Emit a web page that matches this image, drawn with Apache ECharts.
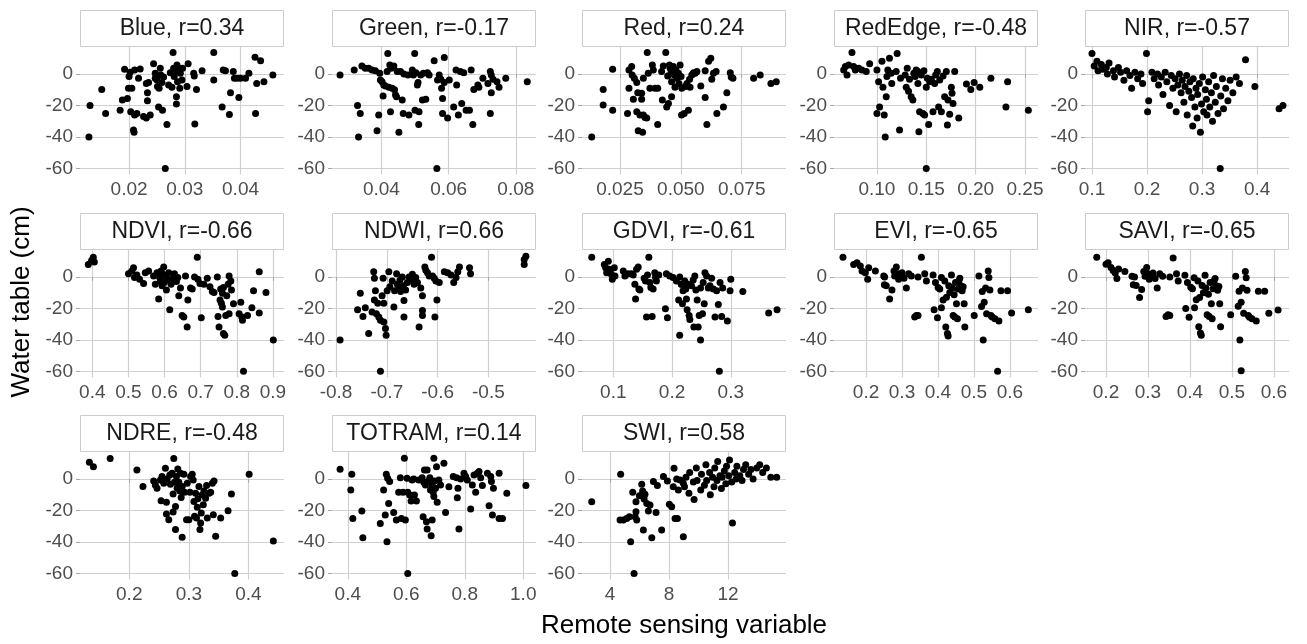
<!DOCTYPE html>
<html>
<head>
<meta charset="utf-8">
<script src="https://cdn.jsdelivr.net/npm/echarts@6/dist/echarts.min.js"></script>
<style>
  html, body { margin: 0; padding: 0; background: #fff; }
  #chart { width: 1307px; height: 644px; }
</style>
</head>
<body>
<div id="chart"></div>
<script>
// panel titles and correlations
const panelNames = ['Blue', 'Green', 'Red', 'RedEdge', 'NIR', 'NDVI', 'NDWI', 'GDVI', 'EVI', 'SAVI', 'NDRE', 'TOTRAM', 'SWI'];
const panelR = ['0.34', '-0.17', '0.24', '-0.48', '-0.57', '-0.66', '0.66', '-0.61', '-0.65', '-0.65', '-0.48', '0.14', '0.58'];

// x axis ranges, breaks and labels (free x scales)
const xRanges = [[0.0112, 0.0478], [0.0253, 0.0860], [0.0094, 0.0932], [0.0565, 0.2632], [0.0873, 0.458],
  [0.366, 0.9306], [-0.808, -0.4063], [0.0467, 0.394], [0.111, 0.678], [0.15, 0.636],
  [0.1174, 0.4596], [0.346, 1.0436], [2.10, 15.93]];
const xBreaks = [[0.02, 0.03, 0.04], [0.04, 0.06, 0.08], [0.025, 0.05, 0.075], [0.10, 0.15, 0.20, 0.25], [0.1, 0.2, 0.3, 0.4],
  [0.4, 0.5, 0.6, 0.7, 0.8, 0.9], [-0.8, -0.7, -0.6, -0.5], [0.1, 0.2, 0.3], [0.2, 0.3, 0.4, 0.5, 0.6], [0.2, 0.3, 0.4, 0.5, 0.6],
  [0.2, 0.3, 0.4], [0.4, 0.6, 0.8, 1.0], [4, 8, 12]];
const xLabels = [['0.02', '0.03', '0.04'], ['0.04', '0.06', '0.08'], ['0.025', '0.050', '0.075'], ['0.10', '0.15', '0.20', '0.25'], ['0.1', '0.2', '0.3', '0.4'],
  ['0.4', '0.5', '0.6', '0.7', '0.8', '0.9'], ['-0.8', '-0.7', '-0.6', '-0.5'], ['0.1', '0.2', '0.3'], ['0.2', '0.3', '0.4', '0.5', '0.6'], ['0.2', '0.3', '0.4', '0.5', '0.6'],
  ['0.2', '0.3', '0.4'], ['0.4', '0.6', '0.8', '1.0'], ['4', '8', '12']];

// shared y axis
const yRange = [-63.67, 17.07];
const yBreaks = [-60, -40, -20, 0];

// points [remote sensing value, water table cm]
const blue = [[0.0128,-40],[0.0130,-20],[0.0151,-9.8],[0.0158,-25],[0.0184,-23],[0.0188,-16.5],[0.0192,3],[0.0197,-15.5],[0.0199,-9],[0.0202,1],[0.0200,-1.7],[0.0203,-24],[0.0205,-9],[0.0208,-35.6],[0.0209,-37],[0.0210,2.5],[0.0214,-25],[0.0217,-2.8],[0.0220,3.2],[0.0210,-26],[0.0226,-27],[0.0231,-6],[0.0231,-28],[0.0233,-12],[0.0233,-17],[0.0238,-26],[0.0235,-5.5],[0.0244,6.4],[0.0247,0.4],[0.0247,-2.8],[0.0250,-3.8],[0.0251,-8],[0.0253,-21],[0.0254,-9],[0.0256,3.6],[0.0257,-0.6],[0.0259,-5.5],[0.0260,-23],[0.0262,-2],[0.0268,-32],[0.0265,-60],[0.0271,-7],[0.0274,0.8],[0.0277,-8.5],[0.0279,13.6],[0.0280,3.6],[0.0281,-1.7],[0.0283,1.5],[0.0285,-14.4],[0.0285,-19],[0.0286,5.7],[0.0287,-4.9],[0.0289,3.6],[0.0291,-9],[0.0292,0.4],[0.0295,-3.8],[0.0296,3.6],[0.0304,-8],[0.0306,6.4],[0.0316,0.4],[0.0317,-1.3],[0.0318,-31.8],[0.0321,-9.8],[0.0331,2],[0.0352,13.6],[0.0352,-3.8],[0.0369,2.5],[0.0373,2],[0.0367,-21],[0.0380,-25.7],[0.0382,-12],[0.0387,1.5],[0.0389,-2.8],[0.0394,-2.8],[0.0397,-15],[0.0400,-2.8],[0.0409,-2.8],[0.0415,0.4],[0.0426,10.6],[0.0427,-25],[0.0429,-6],[0.0436,8.3],[0.0442,-4.9],[0.0458,-0.6]];
const green = [[0.0277,-0.6],[0.0319,2.5],[0.0329,-20],[0.0337,-25],[0.0332,-40],[0.0342,5],[0.0352,3.6],[0.0362,3.6],[0.0372,2.5],[0.0382,2],[0.0387,-36],[0.0392,-26],[0.0395,0.4],[0.0397,-3.8],[0.0402,-5],[0.0405,-14],[0.0407,-7],[0.0412,-7.6],[0.0417,1.5],[0.0419,13],[0.0422,-8.5],[0.0425,5.7],[0.0427,-24],[0.0429,3.6],[0.0432,-9],[0.0437,5],[0.0439,-10],[0.0442,-13.4],[0.0445,-14.4],[0.0447,1.5],[0.0452,-37],[0.0457,1.5],[0.0462,-16.5],[0.0465,-25],[0.0467,0],[0.0479,-0.6],[0.0482,-26],[0.0492,2.5],[0.0495,-0.6],[0.0499,13],[0.0500,-23],[0.0503,0.8],[0.0507,-7],[0.0509,-5.5],[0.0511,-32],[0.0512,-24],[0.0517,-0.6],[0.0522,-16.5],[0.0525,0.4],[0.0532,-16],[0.0537,0.8],[0.0542,-0.6],[0.0557,8.3],[0.0565,-60],[0.0567,-3.8],[0.0572,-0.6],[0.0577,-3.4],[0.0579,-9],[0.0582,-15.5],[0.0582,-25],[0.0587,10.4],[0.0587,-5.5],[0.0597,-28],[0.0602,-3.8],[0.0615,-21],[0.0622,2.5],[0.0624,-7],[0.0629,-26],[0.0635,1.5],[0.0639,-18.7],[0.0645,0.8],[0.0652,-23],[0.0662,-23],[0.0667,2.5],[0.0672,-32],[0.0675,-9.8],[0.0687,-7],[0.0690,-8.5],[0.0702,-2.8],[0.0717,-6],[0.0724,1.5],[0.0727,-0.6],[0.0732,-3.4],[0.0744,-5],[0.0750,-8.5],[0.0727,-12],[0.0724,-25],[0.0770,-2.8],[0.0834,-5]];
const red = [[0.0134,-40],[0.0181,-9.8],[0.0181,-19.7],[0.0220,3],[0.0220,-23],[0.0281,-25],[0.0287,2.5],[0.0287,-9],[0.0298,4.7],[0.0300,-0.6],[0.0305,-16],[0.0309,-2.8],[0.0319,-5.5],[0.0319,-24],[0.0323,-12],[0.0325,-36],[0.0332,-26],[0.0339,-12.3],[0.0339,-16],[0.0343,-37],[0.0346,-26],[0.0346,-2.8],[0.0353,-27.6],[0.0360,-28],[0.0362,13.6],[0.0366,0.4],[0.0373,-9],[0.0383,5.7],[0.0387,2.5],[0.0394,-9],[0.0405,-9],[0.0405,-32],[0.0421,1.5],[0.0424,-16.5],[0.0428,5],[0.0438,13.6],[0.0442,-21],[0.0446,-1.3],[0.0449,-18.7],[0.0453,5.7],[0.0456,3.6],[0.0460,0.8],[0.0462,-14.4],[0.0462,-5],[0.0469,4.7],[0.0473,-0.6],[0.0476,-8.5],[0.0480,2.5],[0.0483,-2.8],[0.0490,0.4],[0.0492,-6],[0.0497,5.7],[0.0501,-1.7],[0.0503,-26],[0.0504,-9],[0.0514,-25],[0.0518,-8],[0.0525,-6],[0.0531,-23],[0.0536,-3.4],[0.0538,-8.5],[0.0545,-0.6],[0.0552,0.8],[0.0559,0.4],[0.0566,1.5],[0.0582,-7.6],[0.0600,2],[0.0600,-15],[0.0607,-32],[0.0614,8],[0.0623,10],[0.0627,-3.4],[0.0634,0.4],[0.0645,1.5],[0.0648,-25],[0.0675,-21],[0.0689,-12],[0.0703,0.8],[0.0707,-2],[0.0714,-2.8],[0.0799,-2.8],[0.0826,-0.6],[0.0870,-6],[0.0892,-5]];
const redEdge = [[0.0663,2.5],[0.0680,4.7],[0.0697,-0.6],[0.0713,5.7],[0.0747,13.6],[0.0764,4.7],[0.0781,2.5],[0.0815,3.6],[0.0848,2.5],[0.0892,1.5],[0.0926,6.4],[0.1000,2.5],[0.1017,-5],[0.1027,-21],[0.1051,8],[0.1061,-8.5],[0.1000,-25],[0.1074,-26],[0.1084,-40],[0.1094,-14.4],[0.1101,-1.7],[0.1110,2.5],[0.1127,10],[0.1144,0.4],[0.1150,-6],[0.1205,13],[0.1195,1.5],[0.1229,-35.6],[0.1239,-2.8],[0.1286,-0.6],[0.1297,-8.5],[0.1307,3.6],[0.1320,-11],[0.1330,-3.4],[0.1347,-14.4],[0.1364,-16.5],[0.1374,0.4],[0.1388,-1.7],[0.1398,2.5],[0.1415,1.5],[0.1415,-6],[0.1425,-36.7],[0.1432,-24],[0.1449,-0.6],[0.1466,-25],[0.1476,2],[0.1483,-26],[0.1500,-60],[0.1500,-8.5],[0.1510,-2.8],[0.1524,-32],[0.1534,-5],[0.1551,-3.4],[0.1568,-24],[0.1585,-6],[0.1595,-0.6],[0.1612,1.5],[0.1625,-21],[0.1636,-3.8],[0.1653,-24],[0.1670,-1.3],[0.1686,-14.4],[0.1703,1.5],[0.1714,-32.4],[0.1720,-16.5],[0.1737,-25.5],[0.1754,-8.5],[0.1761,-12.3],[0.1771,-18.7],[0.1788,1.5],[0.1829,-28],[0.1907,-6.4],[0.1951,-9.8],[0.1985,-5.5],[0.2042,-8.5],[0.2155,-2.8],[0.2307,-21],[0.2324,-5],[0.2534,-23]];
const nir = [[0.100,13],[0.104,5],[0.109,8],[0.111,2],[0.117,6],[0.119,3],[0.126,4],[0.128,0],[0.131,7],[0.139,2],[0.141,-2],[0.148,4],[0.152,1],[0.158,-4],[0.163,2],[0.169,-1],[0.172,-9],[0.178,1],[0.183,-3],[0.189,0],[0.192,-6],[0.199,13],[0.201,-24],[0.203,-17],[0.209,1],[0.213,-3],[0.219,0],[0.221,-7],[0.226,-2],[0.229,-13],[0.233,1],[0.236,-5],[0.241,-20],[0.244,-1],[0.247,-9],[0.251,-3],[0.253,-24],[0.256,-7],[0.259,0],[0.262,-12],[0.264,-4],[0.267,-18],[0.269,-8],[0.272,-1],[0.273,-26],[0.276,-11],[0.278,-5],[0.281,-15],[0.283,-33],[0.284,-3],[0.287,-21],[0.289,-9],[0.291,-28],[0.292,-13],[0.295,-6],[0.297,-37],[0.299,-19],[0.301,-2],[0.303,-24],[0.306,-10],[0.308,-16],[0.309,-26],[0.312,-5],[0.314,-21],[0.317,-12],[0.319,-30],[0.321,-1],[0.324,-18],[0.326,-8],[0.329,-25],[0.333,-60],[0.334,-14],[0.337,-3],[0.339,-22],[0.343,-9],[0.347,-17],[0.351,-4],[0.356,-12],[0.362,-2],[0.368,-6],[0.379,9],[0.396,-8],[0.440,-22],[0.447,-20]];
const ndvi = [[0.3889,7.9],[0.3981,10.4],[0.4028,12.5],[0.4056,9.4],[0.5002,2],[0.5095,3.75],[0.5141,5.8],[0.5169,-0.4],[0.5234,1.25],[0.5309,-1.5],[0.5420,-4.2],[0.5466,2.7],[0.5559,3.75],[0.5698,0.6],[0.5745,-4.6],[0.5791,2.7],[0.5837,-14],[0.5865,-0.4],[0.5884,-2.5],[0.5902,3.75],[0.5930,-5.6],[0.5958,1.7],[0.5977,6.25],[0.5995,-3.5],[0.6023,0.6],[0.6051,-8.3],[0.6088,-1.5],[0.6116,2.7],[0.6144,-20.8],[0.6181,-4.6],[0.6237,-0.8],[0.6274,2],[0.6330,-2.9],[0.6367,-0.4],[0.6394,-11.9],[0.6441,-7],[0.6487,-24.4],[0.6533,-25.4],[0.6580,0.6],[0.6626,-31.7],[0.6645,-14.6],[0.6719,-7],[0.6766,-7.7],[0.6831,0],[0.6905,12.5],[0.6923,-1.5],[0.6979,-4.2],[0.7016,-25.8],[0.7090,-4.6],[0.7183,-0.8],[0.7257,-6.25],[0.7322,-9.2],[0.7369,-9.8],[0.7461,0],[0.7480,-25],[0.7508,-31.7],[0.7536,-14.6],[0.7554,-7.7],[0.7573,-16.7],[0.7601,-19],[0.7601,-10.4],[0.7630,-6.7],[0.7630,-35.8],[0.7667,-36.9],[0.7694,-24.4],[0.7722,-11.9],[0.7759,-4.6],[0.7787,0.6],[0.7787,-23.3],[0.7834,-2.5],[0.7852,-8.3],[0.7908,-17],[0.8064,-23.3],[0.8110,-16],[0.8139,-25.4],[0.8157,-27.5],[0.8185,-59.8],[0.8296,-24.4],[0.8417,-19.6],[0.8463,-8.75],[0.8621,-22.9],[0.8621,3.3],[0.8807,-9.8],[0.9010,-40]];
const ndwi = [[-0.7921,-40],[-0.7523,-10.4],[-0.7576,-20.8],[-0.7470,-25],[-0.7424,-19.6],[-0.7358,-35.8],[-0.7292,-22.3],[-0.7259,3.3],[-0.7245,-0.8],[-0.7245,-14.6],[-0.7225,-8.75],[-0.7206,-23.3],[-0.7179,-16.7],[-0.7159,-25.4],[-0.7126,-27.5],[-0.7126,-59.8],[-0.7093,-11.9],[-0.7073,-0.8],[-0.7060,-16.7],[-0.7060,-28.5],[-0.7027,-32.7],[-0.7014,-36.9],[-0.6994,-8.75],[-0.6961,3.3],[-0.6941,-6.25],[-0.6894,-2.5],[-0.6861,-19],[-0.6848,-8.75],[-0.6808,2],[-0.6795,-4.6],[-0.6762,-7],[-0.6742,-2],[-0.6729,-9.2],[-0.6696,0],[-0.6676,-5.6],[-0.6663,-15],[-0.6663,-25.4],[-0.6630,-8.3],[-0.6597,-3.5],[-0.6564,0],[-0.6517,-2],[-0.6497,1.7],[-0.6464,-4.6],[-0.6431,-0.4],[-0.6398,-3.5],[-0.6365,-31.7],[-0.6332,-7],[-0.6299,-11.9],[-0.6299,-21.3],[-0.6299,-24.4],[-0.6252,6.25],[-0.6232,4.2],[-0.6199,2.7],[-0.6166,0.6],[-0.6120,12.5],[-0.6100,0.6],[-0.6067,-0.8],[-0.6054,-25.4],[-0.6034,-2.5],[-0.6014,-14.6],[-0.5968,-3.5],[-0.5868,3.3],[-0.5802,2.7],[-0.5736,1.25],[-0.5683,-3.5],[-0.5637,-0.4],[-0.5603,3.3],[-0.5570,6.25],[-0.5372,5.8],[-0.5352,2],[-0.4295,11],[-0.4262,13.1],[-0.4295,7.9]];
const gdvi = [[0.0633,12.5],[0.0847,7.9],[0.0870,5.8],[0.0887,2.7],[0.0915,10],[0.0927,4.8],[0.0960,2],[0.0983,-1.5],[0.1017,5.8],[0.1028,0.6],[0.1170,3.75],[0.1198,0.6],[0.1254,2],[0.1311,2],[0.1339,1.25],[0.1367,-4.6],[0.1379,-14],[0.1396,4.8],[0.1424,6.25],[0.1435,-7.7],[0.1452,-8.3],[0.1525,-0.8],[0.1548,-2.5],[0.1565,-25.4],[0.1582,1.25],[0.1605,12.5],[0.1622,-3.5],[0.1639,-6.7],[0.1661,-25],[0.1678,-7.7],[0.1706,2.7],[0.1718,-0.4],[0.1734,-2.5],[0.1774,1.25],[0.1887,-20.2],[0.1921,-25.8],[0.1904,2],[0.1960,0.6],[0.2017,-0.4],[0.2074,-2.5],[0.2113,-14.6],[0.2130,-36.9],[0.2158,-4.6],[0.2131,0],[0.2160,-4.6],[0.2177,-17],[0.2188,-8.75],[0.2217,-2.5],[0.2234,-7.7],[0.2245,-14],[0.2257,-20.8],[0.2274,-4.6],[0.2291,-24.4],[0.2303,-27],[0.2331,-5.6],[0.2360,-2],[0.2371,-31.7],[0.2388,0.6],[0.2405,-8.3],[0.2428,-14.6],[0.2445,-31.7],[0.2462,-24.4],[0.2485,-40],[0.2485,-7],[0.2519,-23.3],[0.2530,-3.5],[0.2548,-17],[0.2560,2.7],[0.2588,0.6],[0.2617,-7],[0.2645,-5.6],[0.2674,-0.8],[0.2702,-7.7],[0.2731,-25.4],[0.2759,-8.75],[0.2788,-17.5],[0.2805,-59.8],[0.2817,-3.5],[0.2845,-25],[0.2862,-7],[0.2942,-27.9],[0.2988,-8.75],[0.3000,-1.5],[0.3205,-9.2],[0.3645,-22.9],[0.3788,-20.8]];
const evi = [[0.1359,12.5],[0.1656,7.9],[0.1749,9],[0.1842,6.9],[0.1889,3.75],[0.1981,2.7],[0.2046,-1.5],[0.2074,5.8],[0.2260,3.75],[0.2492,0.6],[0.2511,-5],[0.2517,0],[0.2563,-5.6],[0.2656,-14],[0.2721,-8.3],[0.2777,3.75],[0.2796,0.6],[0.2842,6.25],[0.2889,2],[0.2907,-1.5],[0.2935,0.6],[0.3000,2.7],[0.3056,-0.8],[0.3121,-7],[0.3186,2],[0.3260,0.6],[0.3353,-25.4],[0.3399,-24.4],[0.3446,-24.4],[0.3446,0],[0.3539,12.5],[0.3632,2],[0.3678,-2.5],[0.3864,1.25],[0.3892,-20.8],[0.3929,-3.5],[0.3985,-25.8],[0.4003,-6.7],[0.4050,-7.7],[0.4096,-0.4],[0.4096,-19.6],[0.4143,-14.6],[0.4189,-2.5],[0.4217,-31.7],[0.4236,-12.9],[0.4263,-35.8],[0.4282,-37.5],[0.4300,-5.6],[0.4328,-9.8],[0.4375,1.25],[0.4393,-7],[0.4421,-24.4],[0.4449,-11.25],[0.4468,-25.4],[0.4486,-3.5],[0.4514,-17],[0.4542,-26.5],[0.4561,-7.7],[0.4579,-2.5],[0.4607,-0.8],[0.4635,-5.6],[0.4672,-8.75],[0.4700,-6.25],[0.4728,-17],[0.4746,-31.7],[0.5007,-24.4],[0.5137,0.6],[0.5211,-18.75],[0.5230,-9.2],[0.5257,-40],[0.5285,-16],[0.5323,-7],[0.5351,-23.3],[0.5397,3.75],[0.5415,-0.4],[0.5443,-8.3],[0.5471,-24.4],[0.5508,-25.4],[0.5583,-26.5],[0.5657,-59.8],[0.5694,-27.9],[0.5750,-8.75],[0.5935,-8.75],[0.6047,-22.9],[0.6512,-20.8]];
const savi = [[0.178,12.5],[0.200,8],[0.205,9],[0.212,6],[0.217,4],[0.222,2.5],[0.226,-1],[0.230,5],[0.245,3.5],[0.262,0.5],[0.265,-5],[0.268,0],[0.272,-5.5],[0.280,-13],[0.285,-8],[0.290,3.5],[0.293,0.5],[0.297,6],[0.300,2],[0.303,-1.5],[0.306,0.5],[0.312,2.5],[0.317,-1],[0.322,-7],[0.328,2],[0.335,0.5],[0.343,-25],[0.348,-24],[0.352,-24.5],[0.352,0],[0.360,12],[0.368,2],[0.372,-2.5],[0.388,1],[0.390,-20],[0.394,-3.5],[0.398,-25.5],[0.402,-6.5],[0.406,-7.5],[0.410,-0.5],[0.411,-19.5],[0.415,-14.5],[0.419,-2.5],[0.421,-31.5],[0.423,-13],[0.425,-35.5],[0.427,-37],[0.429,-5.5],[0.432,-10],[0.436,1],[0.438,-7],[0.441,-24],[0.444,-11],[0.446,-25],[0.448,-3.5],[0.451,-17],[0.453,-26.5],[0.455,-7.5],[0.457,-2.5],[0.460,-1],[0.462,-5.5],[0.466,-8.5],[0.469,-6],[0.471,-17],[0.473,-31.5],[0.497,-24],[0.509,0.5],[0.515,-18.5],[0.517,-9],[0.519,-40],[0.522,-16],[0.525,-7],[0.528,-23],[0.532,3.5],[0.534,-0.5],[0.536,-8.5],[0.539,-24.5],[0.542,-25.5],[0.548,-26.5],[0.522,-59.5],[0.558,-28],[0.563,-9],[0.578,-9],[0.588,-23],[0.610,-21]];
const ndre = [[0.1331,10.5],[0.1399,7.8],[0.1680,13],[0.2129,5.7],[0.2230,-4.8],[0.2410,-1.3],[0.2438,-3.8],[0.2466,-5.9],[0.2523,-0.6],[0.2534,-13.8],[0.2550,1.5],[0.2579,-2.7],[0.2607,6.7],[0.2624,-14.7],[0.2624,-22.2],[0.2635,0],[0.2663,-25.8],[0.2680,2.5],[0.2691,-3.4],[0.2719,3.6],[0.2736,-21],[0.2736,-9.6],[0.2747,13],[0.2759,-2.1],[0.2776,-32],[0.2776,-17.4],[0.2792,1.5],[0.2804,-5.9],[0.2815,6.3],[0.2832,-2.1],[0.2849,-7.6],[0.2860,3.6],[0.2871,-11.7],[0.2888,-4.8],[0.2888,-37],[0.2916,2.9],[0.2927,-8.4],[0.2961,-25.8],[0.2973,-2.7],[0.3000,-25.8],[0.3017,-8.4],[0.3029,1.5],[0.3057,2.9],[0.3073,-0.6],[0.3085,-14.3],[0.3096,-23.7],[0.3113,-9],[0.3129,-24.8],[0.3141,-18],[0.3152,-12.6],[0.3169,-4.8],[0.3186,-32],[0.3197,-27.9],[0.3208,-21.6],[0.3225,-10],[0.3242,-16.4],[0.3253,-7.6],[0.3281,-12.2],[0.3298,-4.2],[0.3309,-24.8],[0.3337,-9],[0.3366,-8.4],[0.3394,-2.7],[0.3410,-22.7],[0.3422,-1.3],[0.3450,-36.3],[0.3534,-24.8],[0.3658,-20.1],[0.3714,-9.6],[0.3770,-60],[0.4012,2.9],[0.4417,-39.4]];
const totram = [[0.3737,6.1],[0.4137,3],[0.4103,-7],[0.4172,-25],[0.4481,-20.3],[0.4515,-37.3],[0.5111,-28.2],[0.5225,-7],[0.5282,-22.9],[0.5317,3],[0.5340,-39.8],[0.5363,0.4],[0.5397,-15.5],[0.5431,-1.7],[0.5569,-21.2],[0.5660,-26],[0.5740,-8.5],[0.5798,0.8],[0.5832,-25],[0.5889,-8.5],[0.5935,13.1],[0.5969,-26],[0.6027,0.4],[0.6050,-8.5],[0.6050,-60],[0.6118,-10.2],[0.6164,-14],[0.6198,-0.6],[0.6256,0],[0.6279,-10.2],[0.6347,-14],[0.6427,-0.6],[0.6542,0.8],[0.6576,-24],[0.6599,-2.1],[0.6622,5.7],[0.6656,-3.8],[0.6690,-27.1],[0.6714,5.7],[0.6714,-31.8],[0.6737,-1.7],[0.6805,0.8],[0.6828,-7],[0.6851,-36],[0.6885,-26],[0.6885,-4.2],[0.6920,-8.5],[0.6943,13.1],[0.6943,-11.2],[0.6966,-1.3],[0.7000,-5.9],[0.7034,7.8],[0.7057,-14.8],[0.7114,-0.6],[0.7172,-3.8],[0.7286,10],[0.7343,-21.2],[0.7458,-4.9],[0.7606,1.5],[0.7720,0.8],[0.7744,-11.9],[0.7767,-5.9],[0.7801,-31.8],[0.7858,0],[0.7973,3.6],[0.8030,1.5],[0.8087,-0.6],[0.8202,-19.1],[0.8259,-3.8],[0.8316,2.5],[0.8373,-8.5],[0.8430,3.6],[0.8488,4.7],[0.8545,0.8],[0.8602,-4.2],[0.8774,3.6],[0.8831,-17],[0.8889,1.5],[0.8912,-1.7],[0.8946,-22.9],[0.8980,-5.9],[0.9175,3.6],[0.9175,-25],[0.9290,-25],[0.9438,-9.1],[1.0091,-4.2]];
const swi = [[2.76,-14.4],[4.72,3],[4.68,-26],[4.90,-26],[5.13,-25],[5.31,-24],[5.40,-39.8],[5.54,-8.5],[5.63,-60],[5.70,-24],[5.76,-20.8],[5.76,-14.4],[5.81,-26],[5.99,-10.6],[6.15,-3.4],[6.21,-7.6],[6.26,-32.4],[6.31,-12.7],[6.37,-9.7],[6.49,-15.5],[6.60,-20.3],[6.71,-16.5],[6.83,-37.3],[6.94,-1.7],[7.12,-21.2],[7.21,-4.2],[7.50,-32.4],[7.62,1.5],[7.89,-1.3],[8.02,-16.1],[8.18,-17.6],[8.29,-4.9],[8.34,6.8],[8.41,-25],[8.52,0],[8.63,-7],[8.57,-25],[8.75,-0.6],[8.97,-36.7],[8.97,-2.8],[9.05,-5],[9.15,1],[9.35,-9],[9.4,4],[9.65,-2],[9.7,-13],[9.85,7],[9.9,-1],[10.15,-7],[10.2,3],[10.4,-4],[10.5,9],[10.55,-1],[10.75,4],[10.8,-10],[10.95,1],[11.05,-5],[11.1,7],[11.25,-1],[11.3,11],[11.45,2],[11.55,-6],[11.6,1],[11.75,5],[11.85,-3],[11.9,8],[12.05,2],[12.1,12],[12.25,-2],[12.3,-28],[12.45,4],[12.55,0],[12.6,8],[12.8,2],[12.95,-1],[13.05,6],[13.2,9],[13.4,3],[13.55,6],[13.7,0],[13.95,7],[14.15,9],[14.35,4],[14.6,7],[14.9,1],[15.3,1]];

const panelData = [blue, green, red, redEdge, nir, ndvi, ndwi, gdvi, evi, savi, ndre, totram, swi];

// layout (pixels)
const colLeft = [80, 332, 582, 834, 1085];
const rowTop = [47, 250, 452];
const panelW = 204;
const panelH = 127.4;
const stripH = 37;
const FONT = '"Liberation Sans", Arial, sans-serif';

const chart = echarts.init(document.getElementById('chart'), null, { renderer: 'canvas' });

const grids = [], xAxes = [], yAxes = [], series = [], graphics = [];

panelNames.forEach(function (name, i) {
  const col = i % 5, row = Math.floor(i / 5);
  const left = colLeft[col], top = rowTop[row];
  grids.push({ left: left, top: top, width: panelW, height: panelH, outerBoundsMode: 'none', containLabel: false });

  const brk = xBreaks[i], lab = xLabels[i];
  xAxes.push({
    type: 'value', gridIndex: i, min: xRanges[i][0], max: xRanges[i][1],
    axisLine: { show: false },
    axisTick: { show: true, customValues: brk, length: 4, lineStyle: { color: '#a8a8a8', width: 1 } },
    axisLabel: {
      customValues: brk, margin: 6, color: '#4d4d4d', fontSize: 19, fontFamily: FONT,
      formatter: function (v) {
        let best = 0;
        brk.forEach(function (b, k) { if (Math.abs(b - v) < Math.abs(brk[best] - v)) best = k; });
        return lab[best];
      }
    },
    splitLine: { show: true, lineStyle: { color: '#d0d0d0', width: 1.2 } }
  });
  yAxes.push({
    type: 'value', gridIndex: i, min: yRange[0], max: yRange[1],
    axisLine: { show: false },
    axisTick: { show: true, customValues: yBreaks, length: 4, lineStyle: { color: '#a8a8a8', width: 1 } },
    axisLabel: { customValues: yBreaks, margin: 7, color: '#4d4d4d', fontSize: 19, fontFamily: FONT },
    splitLine: { show: true, lineStyle: { color: '#d0d0d0', width: 1.2 } }
  });
  series.push({
    type: 'scatter', xAxisIndex: i, yAxisIndex: i, data: panelData[i],
    symbolSize: 7, itemStyle: { color: '#000', opacity: 1 }, silent: true
  });

  graphics.push({
    type: 'rect', shape: { x: left + 0.5, y: top - stripH + 0.5, width: panelW - 1, height: stripH - 1 },
    style: { fill: '#ffffff', stroke: '#cccccc', lineWidth: 1 }
  });
  graphics.push({
    type: 'text', x: left + panelW / 2, y: top - stripH / 2,
    style: { text: name + ', r=' + panelR[i], align: 'center', verticalAlign: 'middle',
      fill: '#1a1a1a', fontSize: 23, fontFamily: FONT }
  });
});

graphics.push({
  type: 'text', x: 22, y: 302, rotation: Math.PI / 2,
  style: { text: 'Water table (cm)', align: 'center', verticalAlign: 'middle', fill: '#000', fontSize: 26, fontFamily: FONT }
});
graphics.push({
  type: 'text', x: 684, y: 626,
  style: { text: 'Remote sensing variable', align: 'center', verticalAlign: 'middle', fill: '#000', fontSize: 26, fontFamily: FONT }
});

chart.setOption({
  animation: false,
  backgroundColor: '#ffffff',
  grid: grids,
  xAxis: xAxes,
  yAxis: yAxes,
  series: series,
  graphic: graphics
});
</script>
</body>
</html>
